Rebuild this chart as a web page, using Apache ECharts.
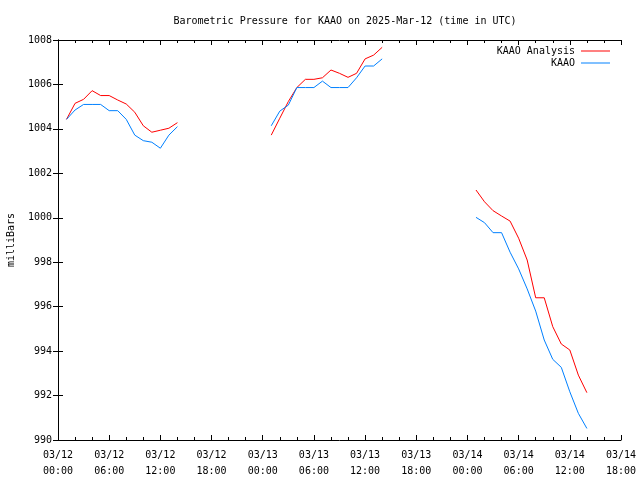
<!DOCTYPE html>
<html>
<head>
<meta charset="utf-8">
<script src="https://cdn.jsdelivr.net/npm/echarts@6/dist/echarts.min.js"></script>
<style>html,body{margin:0;padding:0;background:#fff}#c{width:640px;height:480px}</style>
</head>
<body>
<div id="c"></div>
<script>
// hours since 03/12 00:00 UTC
const hours = [1,2,3,4,5,6,7,8,9,10,11,12,13,14,
               25,26,27,28,29,30,31,32,33,34,35,36,37,38,
               49,50,51,52,53,54,55,56,57,58,59,60,61,62];
const analysis = [1004.43,1005.15,1005.33,1005.72,1005.5,1005.5,1005.3,1005.12,1004.75,1004.14,1003.85,1003.94,1004.03,1004.28,
                  1003.72,1004.48,1005.23,1005.86,1006.23,1006.23,1006.3,1006.65,1006.5,1006.32,1006.5,1007.15,1007.32,1007.67,
                  1001.25,1000.72,1000.32,1000.08,999.85,999.08,998.1,996.4,996.4,995.1,994.32,994.05,992.92,992.13];
const observed = [1004.43,1004.85,1005.1,1005.1,1005.1,1004.82,1004.82,1004.43,1003.72,1003.47,1003.4,1003.13,1003.72,1004.1,
                  1004.14,1004.8,1005.07,1005.86,1005.86,1005.86,1006.15,1005.86,1005.86,1005.86,1006.3,1006.83,1006.83,1007.15,
                  1000.02,999.78,999.33,999.33,998.45,997.7,996.8,995.8,994.5,993.63,993.27,992.17,991.2,990.52];
const tickLabels = ['03/12\n00:00','03/12\n06:00','03/12\n12:00','03/12\n18:00',
                    '03/13\n00:00','03/13\n06:00','03/13\n12:00','03/13\n18:00',
                    '03/14\n00:00','03/14\n06:00','03/14\n12:00','03/14\n18:00'];
const titleText = 'Barometric Pressure for KAAO on 2025-Mar-12 (time in UTC)';
const seriesNames = ['KAAO Analysis','KAAO'];

function build(vals){
  const out = [];
  for (let i = 0; i < hours.length; i++) {
    if (i > 0 && hours[i] - hours[i-1] > 1) out.push([hours[i-1] + 1, null]);
    out.push([hours[i], vals[i]]);
  }
  return out;
}
const FONT = 'DejaVu Sans Mono';
const txt = {fontFamily: FONT, fontSize: 10, color: '#000'};
const chart = echarts.init(document.getElementById('c'), null, {renderer: 'canvas'});
const axisLine = {show: true, lineStyle: {color: '#000', width: 1}};
chart.setOption({
  animation: false,
  backgroundColor: '#fff',
  title: {text: titleText, left: 340, top: 10, textAlign: 'center',
          textStyle: Object.assign({}, txt, {fontWeight: 'normal', lineHeight: 12})},
  legend: {
    orient: 'vertical', right: 25, top: 40, align: 'right',
    icon: 'rect', itemWidth: 29, itemHeight: 1, itemGap: 0,
    textStyle: Object.assign({}, txt, {lineHeight: 12, padding: [0, 1, 0, 0]}),
    data: seriesNames
  },
  grid: {left: 58, right: 19, top: 40, bottom: 40, containLabel: false, outerBoundsMode: 'none'},
  xAxis: [{
    type: 'value', min: 0, max: 66, interval: 6,
    axisLine: axisLine,
    axisTick: {show: true, inside: true, length: 5, lineStyle: {color: '#000'}},
    minorTick: {show: true, splitNumber: 3, length: 3, lineStyle: {color: '#000'}},
    splitLine: {show: false},
    axisLabel: Object.assign({}, txt, {margin: 7, lineHeight: 16,
      formatter: v => tickLabels[Math.round(v / 6)] || ''})
  }, {
    type: 'value', min: 0, max: 66, interval: 6, position: 'top',
    axisLine: axisLine,
    axisTick: {show: true, inside: true, length: 5, lineStyle: {color: '#000'}},
    minorTick: {show: true, splitNumber: 3, length: 3, lineStyle: {color: '#000'}},
    splitLine: {show: false}, axisLabel: {show: false}
  }],
  yAxis: [{
    type: 'value', min: 990, max: 1008, interval: 2,
    name: 'milliBars', nameLocation: 'middle', nameGap: 42, nameRotate: 90,
    nameMoveOverlap: false,
    nameTextStyle: txt,
    axisLine: axisLine,
    axisTick: {show: true, inside: true, length: 5, lineStyle: {color: '#000'}},
    splitLine: {show: false},
    axisLabel: Object.assign({}, txt, {margin: 6, formatter: v => String(v)})
  }, {
    type: 'value', min: 990, max: 1008, interval: 2, position: 'right',
    axisLine: axisLine,
    axisTick: {show: true, inside: true, length: 5, lineStyle: {color: '#000'}},
    splitLine: {show: false}, axisLabel: {show: false}
  }],
  series: [{
    name: seriesNames[0], type: 'line', data: build(analysis),
    symbol: 'none', connectNulls: false, color: '#ff0000',
    lineStyle: {color: '#ff0000', width: 1}
  }, {
    name: seriesNames[1], type: 'line', data: build(observed),
    symbol: 'none', connectNulls: false, color: '#0080ff',
    lineStyle: {color: '#0080ff', width: 1}
  }]
});
</script>
</body>
</html>
